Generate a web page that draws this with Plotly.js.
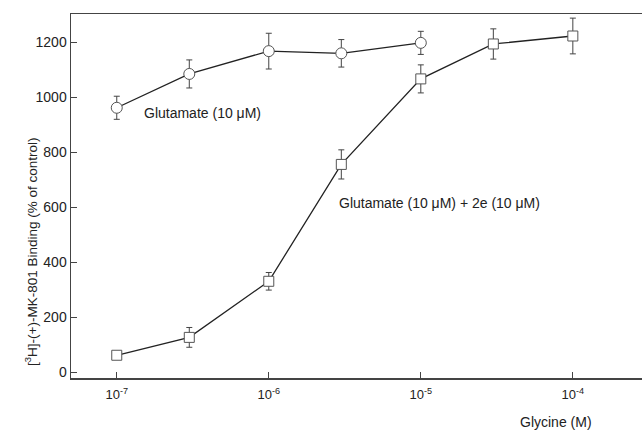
<!DOCTYPE html>
<html>
<head>
<meta charset="utf-8">
<script src="https://cdn.plot.ly/plotly-3.0.1.min.js"></script>
<style>html,body{margin:0;padding:0;background:#fff;}#chart{width:642px;height:430px;}</style>
</head>
<body>
<div id="chart"></div>
<script>
// Glycine concentrations (M)
const glyGlu = [1e-7, 3e-7, 1e-6, 3e-6, 1e-5];
const bindGlu = [962, 1085, 1168, 1160, 1198];
const errGlu = [42, 51, 65, 50, 42];

const glyGlu2e = [1e-7, 3e-7, 1e-6, 3e-6, 1e-5, 3e-5, 1e-4];
const bindGlu2e = [62, 127, 331, 756, 1067, 1194, 1223];
const errGlu2e = [8, 36, 32, 53, 51, 55, 65];

const xTickVals = [1e-7, 1e-6, 1e-5, 1e-4];
const xTickText = ['10<sup>-7</sup>', '10<sup>-6</sup>', '10<sup>-5</sup>', '10<sup>-4</sup>'];
const yTickVals = [0, 200, 400, 600, 800, 1000, 1200];

const labelGlu = 'Glutamate (10 \u03bcM)';
const labelGlu2e = 'Glutamate (10 \u03bcM) + 2e (10 \u03bcM)';
const xTitle = 'Glycine (M)';
const yTitle = '[<sup>3</sup>H]-(+)-MK-801 Binding (% of control)';

const fontFam = '"Liberation Sans", Arial, sans-serif';
const ink = '#222';

const traces = [
  {
    x: glyGlu2e, y: bindGlu2e, type: 'scatter', mode: 'lines+markers',
    name: labelGlu2e,
    line: {color: ink, width: 1.3},
    marker: {symbol: 'square', size: 10, color: '#fff', line: {color: '#555', width: 1}},
    error_y: {type: 'data', array: errGlu2e, visible: true, color: '#444', thickness: 1, width: 3}
  },
  {
    x: glyGlu, y: bindGlu, type: 'scatter', mode: 'lines+markers',
    name: labelGlu,
    line: {color: ink, width: 1.3},
    marker: {symbol: 'circle', size: 11, color: '#fff', line: {color: '#555', width: 1}},
    error_y: {type: 'data', array: errGlu, visible: true, color: '#444', thickness: 1, width: 3}
  }
];

const layout = {
  width: 642, height: 430,
  margin: {l: 71, r: 0, t: 14, b: 52},
  paper_bgcolor: '#fff', plot_bgcolor: '#fff',
  showlegend: false,
  font: {family: fontFam, size: 14, color: ink},
  xaxis: {
    type: 'log', range: [-7.301, -3.545],
    tickvals: xTickVals, ticktext: xTickText,
    ticks: 'inside', ticklen: 6, tickcolor: '#444', tickwidth: 1,
    showline: true, linecolor: '#444', linewidth: 1.5, mirror: true,
    showgrid: false, zeroline: false,
    ticklabelstandoff: 4,
    tickfont: {family: fontFam, size: 13, color: ink}
  },
  yaxis: {
    range: [-20.7, 1303],
    tickvals: yTickVals,
    ticks: 'inside', ticklen: 6, tickcolor: '#444', tickwidth: 1,
    showline: true, linecolor: '#444', linewidth: 1.5,
    showgrid: false, zeroline: false,
    tickfont: {family: fontFam, size: 14, color: ink}
  },
  annotations: [
    {text: labelGlu, xref: 'paper', yref: 'paper', x: (142-71)/571, y: (378-113)/364,
     xanchor: 'left', yanchor: 'middle', showarrow: false, font: {size: 14}},
    {text: labelGlu2e, xref: 'paper', yref: 'paper', x: (337-71)/571, y: (378-203)/364,
     xanchor: 'left', yanchor: 'middle', showarrow: false, font: {size: 14}},
    {text: xTitle, xref: 'paper', yref: 'paper', x: (518-71)/571, y: -(422-378)/364,
     xanchor: 'left', yanchor: 'middle', showarrow: false, font: {size: 14}},
    {text: yTitle, xref: 'paper', yref: 'paper', x: -(71-31)/571, y: (378-252)/364,
     xanchor: 'center', yanchor: 'middle', textangle: -90, showarrow: false, font: {size: 13.5}}
  ]
};

Plotly.newPlot('chart', traces, layout, {displayModeBar: false, staticPlot: true});
</script>
</body>
</html>
